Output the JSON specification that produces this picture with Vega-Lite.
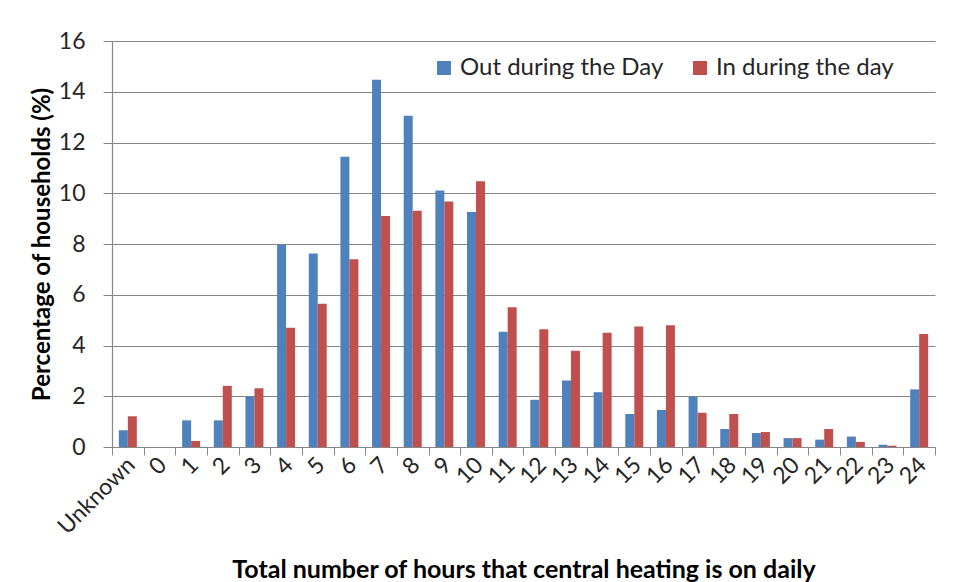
{
  "$schema": "https://vega.github.io/schema/vega-lite/v6.json",
  "width": 823,
  "height": 406,
  "padding": {"left": 30, "top": 30, "right": 24, "bottom": 5},
  "background": "white",
  "data": {"values": [
    {"hours": "Unknown", "series": "Out during the Day", "pct": 0.66},
    {"hours": "Unknown", "series": "In during the day", "pct": 1.21},
    {"hours": "0", "series": "Out during the Day", "pct": 0},
    {"hours": "0", "series": "In during the day", "pct": 0},
    {"hours": "1", "series": "Out during the Day", "pct": 1.05},
    {"hours": "1", "series": "In during the day", "pct": 0.24},
    {"hours": "2", "series": "Out during the Day", "pct": 1.05},
    {"hours": "2", "series": "In during the day", "pct": 2.41},
    {"hours": "3", "series": "Out during the Day", "pct": 1.99},
    {"hours": "3", "series": "In during the day", "pct": 2.32},
    {"hours": "4", "series": "Out during the Day", "pct": 7.97},
    {"hours": "4", "series": "In during the day", "pct": 4.70},
    {"hours": "5", "series": "Out during the Day", "pct": 7.63},
    {"hours": "5", "series": "In during the day", "pct": 5.65},
    {"hours": "6", "series": "Out during the Day", "pct": 11.44},
    {"hours": "6", "series": "In during the day", "pct": 7.40},
    {"hours": "7", "series": "Out during the Day", "pct": 14.47},
    {"hours": "7", "series": "In during the day", "pct": 9.10},
    {"hours": "8", "series": "Out during the Day", "pct": 13.05},
    {"hours": "8", "series": "In during the day", "pct": 9.31},
    {"hours": "9", "series": "Out during the Day", "pct": 10.11},
    {"hours": "9", "series": "In during the day", "pct": 9.67},
    {"hours": "10", "series": "Out during the Day", "pct": 9.26},
    {"hours": "10", "series": "In during the day", "pct": 10.47},
    {"hours": "11", "series": "Out during the Day", "pct": 4.54},
    {"hours": "11", "series": "In during the day", "pct": 5.51},
    {"hours": "12", "series": "Out during the Day", "pct": 1.86},
    {"hours": "12", "series": "In during the day", "pct": 4.64},
    {"hours": "13", "series": "Out during the Day", "pct": 2.62},
    {"hours": "13", "series": "In during the day", "pct": 3.79},
    {"hours": "14", "series": "Out during the Day", "pct": 2.16},
    {"hours": "14", "series": "In during the day", "pct": 4.50},
    {"hours": "15", "series": "Out during the Day", "pct": 1.30},
    {"hours": "15", "series": "In during the day", "pct": 4.75},
    {"hours": "16", "series": "Out during the Day", "pct": 1.46},
    {"hours": "16", "series": "In during the day", "pct": 4.80},
    {"hours": "17", "series": "Out during the Day", "pct": 1.98},
    {"hours": "17", "series": "In during the day", "pct": 1.35},
    {"hours": "18", "series": "Out during the Day", "pct": 0.71},
    {"hours": "18", "series": "In during the day", "pct": 1.30},
    {"hours": "19", "series": "Out during the Day", "pct": 0.55},
    {"hours": "19", "series": "In during the day", "pct": 0.59},
    {"hours": "20", "series": "Out during the Day", "pct": 0.35},
    {"hours": "20", "series": "In during the day", "pct": 0.35},
    {"hours": "21", "series": "Out during the Day", "pct": 0.29},
    {"hours": "21", "series": "In during the day", "pct": 0.71},
    {"hours": "22", "series": "Out during the Day", "pct": 0.41},
    {"hours": "22", "series": "In during the day", "pct": 0.20},
    {"hours": "23", "series": "Out during the Day", "pct": 0.09},
    {"hours": "23", "series": "In during the day", "pct": 0.05},
    {"hours": "24", "series": "Out during the Day", "pct": 2.27},
    {"hours": "24", "series": "In during the day", "pct": 4.45}
  ]},
  "mark": {"type": "bar"},
  "encoding": {
    "x": {
      "field": "hours",
      "type": "nominal",
      "sort": ["Unknown","0","1","2","3","4","5","6","7","8","9","10","11","12","13","14","15","16","17","18","19","20","21","22","23","24"],
      "scale": {"paddingInner": 0, "paddingOuter": 0},
      "axis": {
        "title": "Total number of hours that central heating is on daily",
        "labelAngle": -45,
        "labelAlign": "right",
        "labelBaseline": "middle",
        "labelOffset": 3,
        "labelPadding": 6,
        "tickBand": "extent",
        "tickSize": 8,
        "grid": false,
        "titlePadding": 19,
        "titleFontSize": 25
      }
    },
    "xOffset": {
      "field": "series",
      "type": "nominal",
      "sort": ["Out during the Day", "In during the day"],
      "scale": {"paddingInner": 0, "paddingOuter": 0.758}
    },
    "y": {
      "field": "pct",
      "type": "quantitative",
      "scale": {"domain": [0, 16], "nice": false},
      "axis": {
        "title": "Percentage of households (%)",
        "values": [0, 2, 4, 6, 8, 10, 12, 14, 16],
        "tickSize": 9,
        "labelPadding": 18,
        "titlePadding": 4
      }
    },
    "color": {
      "field": "series",
      "type": "nominal",
      "sort": ["Out during the Day", "In during the day"],
      "scale": {"domain": ["Out during the Day", "In during the day"], "range": ["#4F81BD", "#C0504D"]},
      "legend": {
        "title": null,
        "orient": "none",
        "direction": "horizontal",
        "legendX": 320,
        "legendY": 15,
        "symbolType": "square",
        "symbolSize": 196,
        "symbolStrokeWidth": 0,
        "labelOffset": 4,
        "labelLimit": 0,
        "columnPadding": 24,
        "labelFontSize": 24,
        "labelFont": "Lato",
        "labelColor": "#262626"
      }
    }
  },
  "config": {
    "view": {"stroke": null},
    "font": "Lato",
    "axis": {
      "labelFont": "Lato",
      "labelFontSize": 23,
      "labelColor": "#262626",
      "titleFont": "Lato",
      "titleFontSize": 24,
      "titleFontWeight": "bold",
      "titleColor": "#000000",
      "domainColor": "#868686",
      "tickColor": "#868686",
      "gridColor": "#868686",
      "gridOpacity": 1,
      "gridWidth": 1,
      "domainWidth": 1.2
    }
  }
}
